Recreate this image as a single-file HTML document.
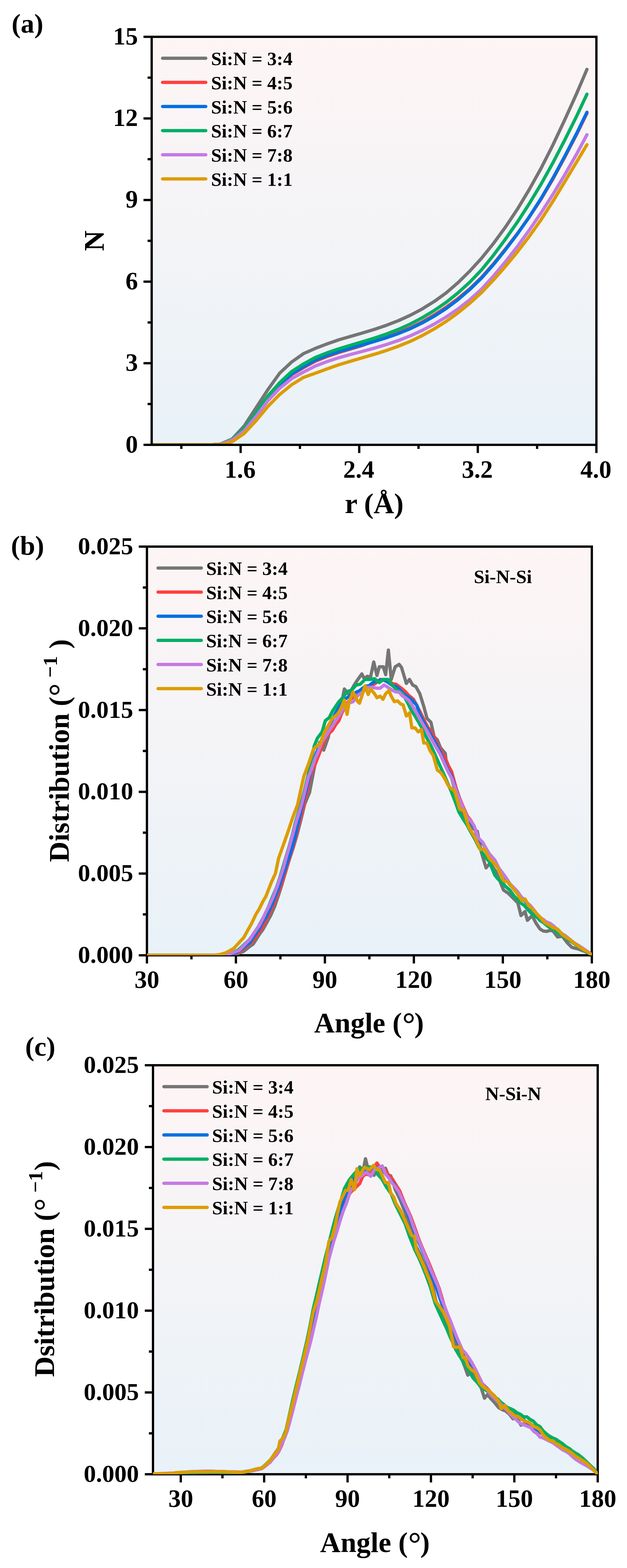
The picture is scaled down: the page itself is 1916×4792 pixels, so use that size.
<!DOCTYPE html><html><head><meta charset="utf-8"><title>Figure</title><style>html,body{margin:0;padding:0;background:#fff;overflow:hidden;}svg{display:block;}</style></head><body>
<svg width="1916" height="4792" viewBox="0 0 1916 4792">
<rect width="1916" height="4792" fill="#fff"/>
<defs><linearGradient id="ga" x1="0" y1="0" x2="0" y2="1"><stop offset="0" stop-color="#FEF5F5"/><stop offset="1" stop-color="#E8F2F8"/></linearGradient><clipPath id="ca"><rect x="463.5" y="112.5" width="1359.0" height="1247.0"/></clipPath></defs>
<rect x="463.5" y="112.5" width="1359.0" height="1247.0" fill="url(#ga)"/>
<g clip-path="url(#ca)" fill="none" stroke-width="10" stroke-linejoin="round" stroke-linecap="round">
<polyline stroke="#757575" points="463.5,1359.5 491.7,1359.5 528.0,1359.5 564.3,1359.5 600.6,1359.5 636.9,1359.5 673.2,1357.4 709.5,1341.7 745.8,1302.5 782.1,1246.8 818.4,1191.2 854.7,1140.4 891.0,1106.5 927.3,1080.8 963.6,1064.7 999.9,1050.8 1036.2,1038.3 1072.5,1027.7 1108.8,1017.3 1145.1,1006.2 1181.4,993.9 1217.7,979.9 1254.0,963.4 1290.3,944.1 1326.6,921.6 1362.9,895.5 1399.2,864.2 1435.5,828.5 1471.8,788.8 1508.1,743.8 1544.4,694.2 1580.7,639.8 1617.0,579.6 1653.3,514.5 1689.6,443.0 1725.9,365.9 1762.2,285.6 1793.6,212.0"/>
<polyline stroke="#FF4040" points="463.5,1359.5 491.7,1359.5 528.0,1359.5 564.3,1359.5 600.6,1359.5 636.9,1359.5 673.2,1357.9 709.5,1345.8 745.8,1315.2 782.1,1269.2 818.4,1220.4 854.7,1179.6 891.0,1145.3 927.3,1123.6 963.6,1103.9 999.9,1089.4 1036.2,1077.0 1072.5,1066.1 1108.8,1055.1 1145.1,1042.1 1181.4,1028.7 1217.7,1016.1 1254.0,1001.7 1290.3,983.7 1326.6,962.6 1362.9,939.2 1399.2,912.7 1435.5,882.6 1471.8,847.6 1508.1,806.3 1544.4,761.3 1580.7,714.3 1617.0,663.8 1653.3,608.8 1689.6,547.1 1725.9,480.0 1762.2,410.2 1793.6,346.0"/>
<polyline stroke="#0070E0" points="463.5,1359.5 491.7,1359.5 528.0,1359.5 564.3,1359.5 600.6,1359.5 636.9,1359.5 673.2,1357.9 709.5,1343.2 745.8,1312.7 782.1,1266.7 818.4,1217.9 854.7,1177.1 891.0,1142.8 927.3,1121.1 963.6,1100.7 999.9,1086.6 1036.2,1074.7 1072.5,1063.9 1108.8,1053.7 1145.1,1043.3 1181.4,1032.0 1217.7,1019.2 1254.0,1004.3 1290.3,986.8 1326.6,966.5 1362.9,943.3 1399.2,916.0 1435.5,884.8 1471.8,849.4 1508.1,808.4 1544.4,763.4 1580.7,715.5 1617.0,663.3 1653.3,606.8 1689.6,544.6 1725.9,477.6 1762.2,407.6 1793.6,343.1"/>
<polyline stroke="#00AF64" points="463.5,1359.5 491.7,1359.5 528.0,1359.5 564.3,1359.5 600.6,1359.5 636.9,1359.5 673.2,1357.9 709.5,1342.4 745.8,1309.9 782.1,1261.4 818.4,1210.6 854.7,1169.5 891.0,1135.6 927.3,1112.3 963.6,1092.5 999.9,1078.1 1036.2,1065.8 1072.5,1054.7 1108.8,1044.0 1145.1,1033.0 1181.4,1020.7 1217.7,1006.5 1254.0,990.2 1290.3,971.1 1326.6,949.2 1362.9,924.3 1399.2,895.4 1435.5,862.4 1471.8,824.4 1508.1,779.8 1544.4,730.9 1580.7,679.2 1617.0,623.0 1653.3,562.9 1689.6,497.5 1725.9,427.6 1762.2,354.7 1793.6,287.8"/>
<polyline stroke="#C47AE3" points="463.5,1359.5 491.7,1359.5 528.0,1359.5 564.3,1359.5 600.6,1359.5 636.9,1359.5 673.2,1358.4 709.5,1344.8 745.8,1317.2 782.1,1273.5 818.4,1225.1 854.7,1186.5 891.0,1157.4 927.3,1137.1 963.6,1118.6 999.9,1104.8 1036.2,1093.1 1072.5,1083.0 1108.8,1073.5 1145.1,1063.6 1181.4,1052.7 1217.7,1040.5 1254.0,1026.3 1290.3,1009.6 1326.6,990.5 1362.9,969.0 1399.2,944.5 1435.5,916.3 1471.8,883.2 1508.1,843.5 1544.4,800.0 1580.7,753.8 1617.0,703.7 1653.3,650.6 1689.6,594.0 1725.9,534.0 1762.2,470.6 1793.6,411.6"/>
<polyline stroke="#DD9C00" points="463.5,1359.5 491.7,1359.5 528.0,1359.5 564.3,1359.5 600.6,1359.5 636.9,1359.5 673.2,1359.0 709.5,1349.8 745.8,1325.2 782.1,1286.1 818.4,1242.5 854.7,1205.6 891.0,1176.1 927.3,1153.5 963.6,1140.6 999.9,1127.2 1036.2,1114.5 1072.5,1103.6 1108.8,1093.0 1145.1,1082.4 1181.4,1070.9 1217.7,1058.0 1254.0,1043.2 1290.3,1025.6 1326.6,1005.4 1362.9,982.6 1399.2,956.4 1435.5,926.9 1471.8,893.7 1508.1,855.6 1544.4,814.3 1580.7,770.3 1617.0,722.9 1653.3,671.8 1689.6,615.3 1725.9,555.1 1762.2,494.8 1793.6,442.2"/>
</g>
<path d="M554.1 1359.5v12.5 M735.3 1359.5v25 M916.5 1359.5v12.5 M1097.7 1359.5v25 M1278.9 1359.5v12.5 M1460.1 1359.5v25 M1641.3 1359.5v12.5 M1822.5 1359.5v25 M463.5 1359.5h-25 M463.5 1234.8h-12.5 M463.5 1110.1h-25 M463.5 985.4h-12.5 M463.5 860.7h-25 M463.5 736.0h-12.5 M463.5 611.3h-25 M463.5 486.6h-12.5 M463.5 361.9h-25 M463.5 237.2h-12.5 M463.5 112.5h-25" stroke="#000" stroke-width="7" fill="none"/>
<rect x="463.5" y="112.5" width="1359.0" height="1247.0" fill="none" stroke="#000" stroke-width="7"/>
<line x1="496.8" y1="178.0" x2="628.8" y2="178.0" stroke="#757575" stroke-width="10" stroke-linecap="round"/>
<text x="645" y="199.0" font-size="58" font-family="'Liberation Serif','Times New Roman',serif" font-weight="bold">Si:N = 3:4</text>
<line x1="496.8" y1="251.7" x2="628.8" y2="251.7" stroke="#FF4040" stroke-width="10" stroke-linecap="round"/>
<text x="645" y="272.7" font-size="58" font-family="'Liberation Serif','Times New Roman',serif" font-weight="bold">Si:N = 4:5</text>
<line x1="496.8" y1="325.5" x2="628.8" y2="325.5" stroke="#0070E0" stroke-width="10" stroke-linecap="round"/>
<text x="645" y="346.5" font-size="58" font-family="'Liberation Serif','Times New Roman',serif" font-weight="bold">Si:N = 5:6</text>
<line x1="496.8" y1="399.2" x2="628.8" y2="399.2" stroke="#00AF64" stroke-width="10" stroke-linecap="round"/>
<text x="645" y="420.2" font-size="58" font-family="'Liberation Serif','Times New Roman',serif" font-weight="bold">Si:N = 6:7</text>
<line x1="496.8" y1="473.0" x2="628.8" y2="473.0" stroke="#C47AE3" stroke-width="10" stroke-linecap="round"/>
<text x="645" y="494.0" font-size="58" font-family="'Liberation Serif','Times New Roman',serif" font-weight="bold">Si:N = 7:8</text>
<line x1="496.8" y1="546.7" x2="628.8" y2="546.7" stroke="#DD9C00" stroke-width="10" stroke-linecap="round"/>
<text x="645" y="567.7" font-size="58" font-family="'Liberation Serif','Times New Roman',serif" font-weight="bold">Si:N = 1:1</text>
<text x="421.5" y="1382.5" font-size="76" text-anchor="end" font-family="'Liberation Serif','Times New Roman',serif" font-weight="bold">0</text>
<text x="421.5" y="1133.1" font-size="76" text-anchor="end" font-family="'Liberation Serif','Times New Roman',serif" font-weight="bold">3</text>
<text x="421.5" y="883.7" font-size="76" text-anchor="end" font-family="'Liberation Serif','Times New Roman',serif" font-weight="bold">6</text>
<text x="421.5" y="634.3" font-size="76" text-anchor="end" font-family="'Liberation Serif','Times New Roman',serif" font-weight="bold">9</text>
<text x="421.5" y="384.9" font-size="76" text-anchor="end" font-family="'Liberation Serif','Times New Roman',serif" font-weight="bold">12</text>
<text x="421.5" y="135.5" font-size="76" text-anchor="end" font-family="'Liberation Serif','Times New Roman',serif" font-weight="bold">15</text>
<text x="733.8" y="1459.5" font-size="76" text-anchor="middle" font-family="'Liberation Serif','Times New Roman',serif" font-weight="bold">1.6</text>
<text x="1096.2" y="1459.5" font-size="76" text-anchor="middle" font-family="'Liberation Serif','Times New Roman',serif" font-weight="bold">2.4</text>
<text x="1458.6" y="1459.5" font-size="76" text-anchor="middle" font-family="'Liberation Serif','Times New Roman',serif" font-weight="bold">3.2</text>
<text x="1821.0" y="1459.5" font-size="76" text-anchor="middle" font-family="'Liberation Serif','Times New Roman',serif" font-weight="bold">4.0</text>
<text x="1143.5" y="1568" font-size="87" text-anchor="middle" font-family="'Liberation Serif','Times New Roman',serif" font-weight="bold">r (Å)</text>
<text transform="translate(316.8 735.9) rotate(-90)" x="0" y="0" font-size="87" text-anchor="middle" font-family="'Liberation Serif','Times New Roman',serif" font-weight="bold">N</text>
<text x="35.5" y="100" font-size="83" font-family="'Liberation Serif','Times New Roman',serif" font-weight="bold">(a)</text>
<defs><linearGradient id="gb" x1="0" y1="0" x2="0" y2="1"><stop offset="0" stop-color="#FEF5F5"/><stop offset="1" stop-color="#E8F2F8"/></linearGradient><clipPath id="cb"><rect x="449" y="1670.5" width="1359.5" height="1249.0"/></clipPath></defs>
<rect x="449" y="1670.5" width="1359.5" height="1249.0" fill="url(#gb)"/>
<path d="M449.0 2919.5v25 M585.0 2919.5v12.5 M720.9 2919.5v25 M856.8 2919.5v12.5 M992.8 2919.5v25 M1128.8 2919.5v12.5 M1264.7 2919.5v25 M1400.7 2919.5v12.5 M1536.6 2919.5v25 M1672.5 2919.5v12.5 M1808.5 2919.5v25 M449 2919.5h-25 M449 2794.6h-12.5 M449 2669.7h-25 M449 2544.8h-12.5 M449 2419.9h-25 M449 2295.0h-12.5 M449 2170.1h-25 M449 2045.2h-12.5 M449 1920.3h-25 M449 1795.4h-12.5 M449 1670.5h-25" stroke="#000" stroke-width="7" fill="none"/>
<rect x="449" y="1670.5" width="1359.5" height="1249.0" fill="none" stroke="#000" stroke-width="7"/>
<g clip-path="url(#cb)" fill="none" stroke-width="10" stroke-linejoin="round" stroke-linecap="round">
<polyline stroke="#757575" points="449.0,2919.5 458.3,2919.5 467.6,2919.5 476.9,2919.5 486.2,2919.5 495.5,2919.5 504.8,2919.5 514.1,2919.5 523.4,2919.5 532.7,2919.5 542.0,2919.5 551.3,2919.5 560.6,2919.5 569.9,2919.5 579.1,2919.5 588.4,2919.5 597.7,2919.5 607.0,2919.5 616.3,2919.5 625.6,2919.5 634.9,2919.5 644.2,2919.5 653.5,2919.5 662.8,2919.5 672.1,2919.5 681.4,2919.5 690.7,2919.5 700.0,2919.5 710.0,2918.3 720.0,2917.0 732.2,2912.2 744.5,2907.3 754.2,2899.7 763.9,2891.8 773.6,2885.4 783.3,2870.3 793.0,2854.7 802.7,2841.7 814.9,2820.0 827.0,2798.1 839.1,2770.5 851.3,2735.0 861.0,2704.8 870.7,2671.8 882.9,2630.5 895.0,2594.2 907.1,2553.6 919.2,2506.8 931.0,2457.6 945.8,2422.3 960.1,2348.3 977.1,2268.3 989.2,2292.5 1003.8,2251.3 1008.9,2218.4 1023.5,2218.4 1040.2,2168.7 1052.3,2105.6 1064.5,2120.2 1074.2,2108.0 1083.9,2091.1 1093.6,2076.5 1105.7,2059.5 1113.0,2074.1 1122.7,2066.8 1132.4,2069.2 1142.1,2023.1 1151.8,2064.4 1159.1,2037.7 1171.3,2037.7 1178.5,2061.9 1186.8,1986.7 1195.5,2076.5 1207.7,2037.7 1219.8,2030.4 1227.1,2040.1 1241.7,2088.6 1251.4,2076.5 1261.1,2093.5 1270.8,2098.3 1282.9,2120.2 1295.0,2159.0 1304.8,2195.4 1316.9,2207.6 1326.6,2251.3 1336.3,2261.0 1346.0,2285.2 1360.6,2302.2 1365.4,2343.5 1380.0,2377.5 1391.4,2419.8 1402.8,2458.3 1414.9,2488.3 1427.1,2511.7 1437.6,2523.5 1448.1,2533.4 1458.6,2540.8 1470.8,2603.9 1485.3,2652.4 1497.5,2637.9 1514.5,2662.1 1526.6,2690.1 1538.7,2720.4 1553.3,2730.1 1567.9,2744.7 1582.4,2759.2 1592.1,2798.1 1604.3,2785.9 1611.6,2812.6 1626.1,2798.1 1638.2,2821.9 1650.4,2839.3 1660.1,2845.3 1669.8,2846.6 1679.5,2843.7 1689.2,2844.2 1703.8,2863.6 1718.3,2861.2 1732.9,2880.6 1747.5,2895.1 1757.2,2897.9 1766.9,2900.0 1776.6,2903.9 1786.3,2907.3 1803.3,2914.6 1808.5,2919.5"/>
<polyline stroke="#FF4040" points="449.0,2919.5 458.1,2919.5 467.2,2919.5 476.3,2919.5 485.4,2919.5 494.6,2919.5 503.7,2919.5 512.8,2919.5 521.9,2919.5 531.0,2919.5 540.1,2919.5 549.2,2919.5 558.3,2919.5 567.4,2919.5 576.6,2919.5 585.7,2919.5 594.8,2919.5 603.9,2919.5 613.0,2919.5 622.1,2919.5 631.2,2919.5 640.3,2919.5 649.4,2919.5 658.6,2919.5 667.7,2919.5 676.8,2919.5 685.9,2919.5 695.0,2919.5 710.0,2916.0 720.0,2912.7 729.9,2909.7 739.6,2902.7 749.3,2894.8 759.0,2887.4 768.7,2880.6 780.0,2865.7 791.4,2849.5 802.7,2832.0 812.4,2811.5 822.1,2796.0 831.8,2773.8 841.5,2749.8 851.3,2726.3 861.0,2701.0 873.1,2660.4 885.2,2623.3 897.4,2582.2 909.5,2535.9 919.0,2499.1 928.5,2460.0 939.5,2414.2 950.4,2362.9 963.8,2333.7 977.1,2299.8 986.8,2274.3 996.5,2251.3 1006.2,2240.7 1015.9,2231.8 1025.6,2215.2 1035.3,2202.7 1045.0,2178.4 1054.8,2159.3 1064.5,2144.5 1074.2,2133.8 1083.9,2127.1 1093.6,2120.2 1103.3,2114.4 1113.0,2104.3 1122.7,2100.8 1134.8,2095.8 1147.0,2088.6 1161.6,2076.5 1171.3,2078.0 1181.0,2081.4 1190.7,2083.5 1200.4,2089.8 1210.1,2091.1 1219.8,2098.2 1229.5,2105.6 1239.2,2114.2 1248.9,2125.0 1263.5,2137.2 1275.7,2160.1 1287.8,2183.3 1297.5,2203.9 1307.2,2222.1 1319.3,2238.9 1331.5,2261.0 1341.2,2283.3 1350.9,2299.8 1360.6,2316.4 1370.3,2340.2 1380.0,2358.1 1394.0,2409.0 1403.5,2436.6 1413.0,2460.0 1428.0,2494.0 1438.5,2507.0 1448.9,2525.8 1461.1,2562.2 1475.6,2576.8 1485.3,2595.5 1495.0,2610.7 1512.0,2630.2 1524.2,2654.4 1538.7,2673.8 1548.5,2687.6 1558.2,2703.0 1572.7,2717.5 1582.4,2730.1 1592.1,2741.8 1601.8,2748.6 1611.6,2761.2 1621.3,2769.8 1631.0,2782.0 1640.7,2795.2 1650.4,2805.9 1660.1,2809.8 1669.8,2819.5 1681.9,2827.9 1694.1,2834.0 1706.2,2846.6 1718.3,2855.9 1728.0,2864.4 1737.8,2870.1 1747.5,2877.7 1757.2,2883.9 1766.9,2890.7 1776.6,2897.1 1788.8,2905.8 1800.9,2914.1 1808.5,2919.5"/>
<polyline stroke="#0070E0" points="449.0,2919.5 458.3,2919.5 467.5,2919.5 476.8,2919.5 486.1,2919.5 495.3,2919.5 504.6,2919.5 513.9,2919.5 523.2,2919.5 532.4,2919.5 541.7,2919.5 551.0,2919.5 560.2,2919.5 569.5,2919.5 578.8,2919.5 588.0,2919.5 597.3,2919.5 606.6,2919.5 615.8,2919.5 625.1,2919.5 634.4,2919.5 643.7,2919.5 652.9,2919.5 662.2,2919.5 671.5,2919.5 680.7,2919.5 690.0,2919.5 705.0,2916.0 715.0,2912.7 725.0,2909.7 734.7,2902.5 744.5,2895.4 754.2,2887.9 763.9,2880.6 773.6,2865.2 783.3,2851.4 793.0,2836.9 802.7,2817.0 812.4,2803.9 822.1,2783.5 831.8,2763.0 841.6,2738.5 851.3,2715.5 863.4,2677.9 875.5,2642.7 887.6,2606.3 899.8,2565.0 911.8,2512.9 923.7,2460.0 935.9,2413.7 948.0,2362.9 957.7,2333.4 967.4,2299.8 979.5,2273.2 991.7,2246.4 1003.0,2223.2 1014.3,2201.7 1025.6,2178.4 1035.3,2162.2 1045.0,2146.9 1054.8,2136.4 1064.5,2129.9 1076.6,2121.4 1088.7,2115.3 1098.5,2111.1 1108.2,2103.2 1117.9,2096.8 1127.6,2095.9 1142.1,2083.8 1156.7,2081.4 1168.8,2076.5 1183.4,2083.8 1200.4,2095.9 1210.1,2098.0 1219.8,2105.6 1229.5,2116.1 1239.2,2125.0 1248.9,2131.0 1258.6,2139.6 1273.2,2154.2 1282.9,2183.3 1297.5,2212.4 1307.2,2229.6 1316.9,2246.4 1326.6,2263.2 1336.3,2280.4 1346.0,2301.3 1355.7,2324.1 1367.8,2351.3 1380.0,2372.6 1393.0,2412.0 1402.5,2437.2 1412.0,2466.0 1427.0,2499.0 1438.0,2512.4 1448.9,2526.8 1461.1,2563.2 1475.6,2577.8 1485.3,2593.0 1495.0,2611.7 1512.0,2631.2 1524.2,2655.4 1538.7,2674.8 1548.5,2690.2 1558.2,2704.0 1572.7,2718.5 1582.4,2729.3 1592.1,2742.8 1601.8,2751.6 1611.6,2762.2 1621.3,2775.0 1631.0,2783.8 1640.7,2796.2 1650.4,2804.6 1660.1,2814.6 1669.8,2820.5 1681.9,2825.9 1694.1,2835.0 1706.2,2844.3 1718.3,2856.9 1728.0,2863.4 1737.8,2872.1 1747.5,2878.7 1757.2,2885.4 1766.9,2891.3 1776.6,2898.1 1788.8,2906.5 1800.9,2915.1 1808.5,2919.5"/>
<polyline stroke="#00AF64" points="449.0,2919.5 458.2,2919.5 467.5,2919.5 476.7,2919.5 486.0,2919.5 495.2,2919.5 504.4,2919.5 513.7,2919.5 522.9,2919.5 532.2,2919.5 541.4,2919.5 550.6,2919.5 559.9,2919.5 569.1,2919.5 578.4,2919.5 587.6,2919.5 596.8,2919.5 606.1,2919.5 615.3,2919.5 624.6,2919.5 633.8,2919.5 643.0,2919.5 652.3,2919.5 661.5,2919.5 670.8,2919.5 680.0,2919.5 690.0,2917.7 700.0,2916.0 713.5,2909.8 727.0,2904.0 738.7,2893.8 750.3,2882.6 762.0,2872.0 771.7,2858.3 781.3,2844.8 791.0,2829.0 800.7,2811.2 810.3,2793.5 820.0,2772.0 832.5,2741.4 845.0,2712.0 854.5,2683.8 864.0,2652.0 874.0,2618.2 884.0,2585.0 893.5,2551.1 903.0,2512.0 918.8,2460.0 931.0,2413.7 943.1,2362.9 960.1,2280.4 969.8,2256.1 984.4,2236.7 994.1,2202.7 1006.2,2193.0 1015.9,2173.6 1025.6,2159.0 1035.3,2144.7 1045.0,2134.8 1062.0,2112.9 1074.2,2109.5 1088.7,2093.5 1100.9,2091.1 1115.4,2076.5 1130.0,2076.5 1144.6,2074.1 1159.1,2086.2 1171.3,2076.5 1185.8,2076.5 1198.0,2093.5 1215.0,2110.5 1229.5,2120.2 1239.2,2135.5 1248.9,2154.2 1258.6,2174.0 1268.3,2188.2 1278.0,2204.8 1287.8,2222.1 1297.5,2242.3 1307.2,2261.0 1316.9,2279.2 1326.6,2299.8 1336.3,2321.7 1346.0,2343.5 1355.7,2364.7 1365.4,2387.2 1380.0,2421.2 1391.4,2451.0 1402.8,2482.5 1414.9,2502.5 1427.1,2521.4 1439.2,2543.7 1451.4,2565.0 1463.5,2589.3 1475.6,2608.7 1485.3,2621.9 1495.0,2633.0 1512.0,2674.3 1523.0,2687.8 1533.9,2696.1 1546.1,2710.4 1558.2,2720.4 1570.3,2737.9 1582.4,2749.5 1592.1,2760.2 1601.9,2766.9 1611.6,2778.6 1621.3,2788.9 1631.0,2797.6 1640.7,2802.9 1650.4,2813.2 1660.1,2819.4 1669.8,2827.2 1679.5,2834.6 1689.2,2839.0 1698.9,2846.6 1708.6,2854.2 1718.4,2859.8 1728.1,2866.0 1737.8,2872.0 1747.5,2878.0 1757.2,2885.4 1766.9,2892.4 1776.6,2898.9 1786.3,2904.9 1796.0,2909.5 1805.7,2914.6 1808.5,2919.5"/>
<polyline stroke="#C47AE3" points="449.0,2919.5 458.2,2919.5 467.5,2919.5 476.7,2919.5 486.0,2919.5 495.2,2919.5 504.4,2919.5 513.7,2919.5 522.9,2919.5 532.2,2919.5 541.4,2919.5 550.6,2919.5 559.9,2919.5 569.1,2919.5 578.4,2919.5 587.6,2919.5 596.8,2919.5 606.1,2919.5 615.3,2919.5 624.6,2919.5 633.8,2919.5 643.0,2919.5 652.3,2919.5 661.5,2919.5 670.8,2919.5 680.0,2919.5 696.0,2917.0 707.3,2912.8 718.6,2909.1 729.9,2904.9 741.2,2894.0 752.6,2882.1 763.9,2870.9 773.6,2855.1 783.3,2840.6 793.0,2827.2 802.7,2808.5 812.4,2787.1 822.1,2768.9 834.2,2742.5 846.4,2710.7 856.1,2682.1 865.8,2652.4 875.5,2616.7 885.2,2584.5 895.0,2549.0 904.7,2511.7 921.3,2460.0 932.2,2415.5 943.1,2372.6 952.8,2348.5 962.5,2319.2 972.2,2297.4 981.9,2270.7 994.0,2251.3 1006.2,2231.8 1015.9,2218.1 1025.6,2202.7 1036.5,2186.9 1047.5,2168.7 1064.5,2149.3 1079.0,2144.5 1093.6,2125.0 1108.2,2115.3 1122.7,2100.8 1137.3,2100.8 1151.8,2103.2 1161.6,2103.2 1173.7,2093.5 1185.8,2100.8 1200.4,2110.5 1210.1,2114.7 1219.8,2115.3 1229.5,2126.7 1239.2,2132.3 1248.9,2140.4 1258.6,2154.2 1268.3,2170.4 1278.1,2188.2 1287.8,2205.8 1297.5,2222.1 1307.2,2237.9 1316.9,2256.1 1326.6,2273.6 1336.3,2290.1 1346.0,2307.0 1355.7,2328.9 1367.8,2355.5 1380.0,2377.5 1393.1,2414.6 1402.8,2439.0 1412.5,2463.1 1427.1,2497.1 1438.0,2508.2 1448.9,2523.8 1461.1,2560.2 1475.6,2574.8 1485.3,2592.7 1495.0,2608.7 1512.0,2628.2 1524.2,2652.4 1538.7,2671.8 1548.5,2685.3 1558.2,2701.0 1572.7,2715.5 1582.4,2725.8 1592.1,2739.8 1601.8,2749.4 1611.6,2759.2 1621.3,2768.4 1631.0,2780.1 1640.7,2793.2 1650.4,2803.5 1660.1,2810.5 1669.8,2817.5 1681.9,2822.4 1694.1,2832.0 1706.2,2844.0 1718.3,2853.9 1728.0,2859.8 1737.8,2868.0 1747.5,2875.7 1757.2,2882.9 1766.9,2888.8 1776.6,2895.1 1788.8,2903.4 1800.9,2912.1 1808.5,2919.5"/>
<polyline stroke="#DD9C00" points="449.0,2919.5 458.1,2919.5 467.3,2919.5 476.4,2919.5 485.5,2919.5 494.7,2919.5 503.8,2919.5 513.0,2919.5 522.1,2919.5 531.2,2919.5 540.4,2919.5 549.5,2919.5 558.6,2919.5 567.8,2919.5 576.9,2919.5 586.0,2919.5 595.2,2919.5 604.3,2919.5 613.5,2919.5 622.6,2919.5 631.7,2919.5 640.9,2919.5 650.0,2919.5 668.0,2918.0 679.0,2915.0 690.0,2912.0 702.6,2905.1 715.3,2897.6 725.0,2886.9 734.8,2875.9 744.5,2866.0 756.6,2843.9 768.7,2822.3 780.9,2796.4 793.0,2776.2 802.7,2756.3 812.4,2739.8 829.4,2696.1 841.6,2669.4 851.3,2623.3 863.4,2589.3 880.4,2540.8 895.0,2497.1 909.1,2460.0 918.8,2415.9 928.5,2372.6 943.1,2333.8 957.7,2290.1 965.0,2282.8 977.1,2275.5 991.7,2236.7 1006.2,2212.4 1015.9,2195.4 1030.5,2183.3 1040.2,2168.7 1052.3,2139.6 1060.6,2183.3 1066.9,2144.5 1079.0,2115.3 1093.6,2144.5 1098.4,2149.3 1105.7,2127.5 1115.4,2095.9 1125.1,2122.6 1132.4,2105.6 1144.6,2120.2 1151.8,2132.3 1161.6,2127.5 1170.3,2137.2 1178.5,2120.2 1188.3,2110.5 1195.5,2127.5 1205.2,2144.5 1215.0,2142.0 1224.7,2151.7 1231.9,2154.2 1241.7,2188.2 1251.4,2178.4 1258.6,2224.6 1268.3,2224.6 1278.1,2236.7 1287.8,2229.4 1295.0,2270.7 1304.8,2270.7 1314.5,2294.9 1324.2,2309.5 1336.3,2353.2 1348.4,2362.9 1360.6,2382.3 1370.3,2401.7 1380.0,2411.5 1388.3,2414.6 1405.2,2472.8 1417.4,2477.7 1431.9,2526.2 1441.7,2543.2 1451.4,2560.2 1468.3,2596.6 1480.5,2594.2 1495.0,2623.3 1508.3,2636.2 1521.7,2652.4 1538.7,2691.3 1553.3,2696.1 1570.3,2718.0 1582.4,2733.4 1594.6,2752.0 1604.3,2747.1 1616.4,2768.9 1627.7,2778.5 1639.1,2791.3 1650.4,2802.9 1665.0,2819.9 1677.1,2826.2 1689.2,2834.5 1703.8,2839.3 1718.3,2856.3 1732.9,2866.0 1742.6,2872.2 1752.3,2880.6 1764.4,2889.6 1776.6,2897.6 1789.9,2906.1 1803.3,2914.6 1808.5,2919.5"/>
</g>
<line x1="483" y1="1735.9" x2="615.2" y2="1735.9" stroke="#757575" stroke-width="10" stroke-linecap="round"/>
<text x="630" y="1756.9" font-size="58" font-family="'Liberation Serif','Times New Roman',serif" font-weight="bold">Si:N = 3:4</text>
<line x1="483" y1="1809.6" x2="615.2" y2="1809.6" stroke="#FF4040" stroke-width="10" stroke-linecap="round"/>
<text x="630" y="1830.6" font-size="58" font-family="'Liberation Serif','Times New Roman',serif" font-weight="bold">Si:N = 4:5</text>
<line x1="483" y1="1883.3" x2="615.2" y2="1883.3" stroke="#0070E0" stroke-width="10" stroke-linecap="round"/>
<text x="630" y="1904.3" font-size="58" font-family="'Liberation Serif','Times New Roman',serif" font-weight="bold">Si:N = 5:6</text>
<line x1="483" y1="1957.1" x2="615.2" y2="1957.1" stroke="#00AF64" stroke-width="10" stroke-linecap="round"/>
<text x="630" y="1978.1" font-size="58" font-family="'Liberation Serif','Times New Roman',serif" font-weight="bold">Si:N = 6:7</text>
<line x1="483" y1="2030.8" x2="615.2" y2="2030.8" stroke="#C47AE3" stroke-width="10" stroke-linecap="round"/>
<text x="630" y="2051.8" font-size="58" font-family="'Liberation Serif','Times New Roman',serif" font-weight="bold">Si:N = 7:8</text>
<line x1="483" y1="2104.5" x2="615.2" y2="2104.5" stroke="#DD9C00" stroke-width="10" stroke-linecap="round"/>
<text x="630" y="2125.5" font-size="58" font-family="'Liberation Serif','Times New Roman',serif" font-weight="bold">Si:N = 1:1</text>
<text x="407" y="2943.0" font-size="75" text-anchor="end" font-family="'Liberation Serif','Times New Roman',serif" font-weight="bold">0.000</text>
<text x="407" y="2693.2" font-size="75" text-anchor="end" font-family="'Liberation Serif','Times New Roman',serif" font-weight="bold">0.005</text>
<text x="407" y="2443.4" font-size="75" text-anchor="end" font-family="'Liberation Serif','Times New Roman',serif" font-weight="bold">0.010</text>
<text x="407" y="2193.6" font-size="75" text-anchor="end" font-family="'Liberation Serif','Times New Roman',serif" font-weight="bold">0.015</text>
<text x="407" y="1943.8" font-size="75" text-anchor="end" font-family="'Liberation Serif','Times New Roman',serif" font-weight="bold">0.020</text>
<text x="407" y="1694.0" font-size="75" text-anchor="end" font-family="'Liberation Serif','Times New Roman',serif" font-weight="bold">0.025</text>
<text x="449.0" y="3019" font-size="76" text-anchor="middle" font-family="'Liberation Serif','Times New Roman',serif" font-weight="bold">30</text>
<text x="720.9" y="3019" font-size="76" text-anchor="middle" font-family="'Liberation Serif','Times New Roman',serif" font-weight="bold">60</text>
<text x="992.8" y="3019" font-size="76" text-anchor="middle" font-family="'Liberation Serif','Times New Roman',serif" font-weight="bold">90</text>
<text x="1264.7" y="3019" font-size="76" text-anchor="middle" font-family="'Liberation Serif','Times New Roman',serif" font-weight="bold">120</text>
<text x="1536.6" y="3019" font-size="76" text-anchor="middle" font-family="'Liberation Serif','Times New Roman',serif" font-weight="bold">150</text>
<text x="1808.5" y="3019" font-size="76" text-anchor="middle" font-family="'Liberation Serif','Times New Roman',serif" font-weight="bold">180</text>
<text x="1127.6" y="3155" font-size="87" text-anchor="middle" font-family="'Liberation Serif','Times New Roman',serif" font-weight="bold">Angle (<tspan font-size="100" dy="8" dx="1">°</tspan><tspan dy="-8" dx="-3">)</tspan></text>
<text x="1448" y="1782.4" font-size="58" font-family="'Liberation Serif','Times New Roman',serif" font-weight="bold">Si-N-Si</text>
<text transform="translate(210 2634.4) rotate(-90)" font-size="87" font-family="'Liberation Serif','Times New Roman',serif" font-weight="bold">Distribution (<tspan font-size="100" dy="8" dx="1">°</tspan></text>
<text transform="translate(174 2071) rotate(-90)" font-size="62" font-family="'Liberation Serif','Times New Roman',serif" font-weight="bold">−1</text>
<text transform="translate(210 1982.5) rotate(-90)" font-size="87" font-family="'Liberation Serif','Times New Roman',serif" font-weight="bold">)</text>
<text x="33.5" y="1695" font-size="83" font-family="'Liberation Serif','Times New Roman',serif" font-weight="bold">(b)</text>
<defs><linearGradient id="gc" x1="0" y1="0" x2="0" y2="1"><stop offset="0" stop-color="#FEF5F5"/><stop offset="1" stop-color="#E8F2F8"/></linearGradient><clipPath id="cc"><rect x="467.5" y="3255.5" width="1359.0" height="1250.0"/></clipPath></defs>
<rect x="467.5" y="3255.5" width="1359.0" height="1250.0" fill="url(#gc)"/>
<path d="M552.4 4505.5v25 M679.8 4505.5v12.5 M807.2 4505.5v25 M934.7 4505.5v12.5 M1062.1 4505.5v25 M1189.5 4505.5v12.5 M1316.9 4505.5v25 M1444.3 4505.5v12.5 M1571.7 4505.5v25 M1699.1 4505.5v12.5 M1826.5 4505.5v25 M467.5 4505.5h-25 M467.5 4380.5h-12.5 M467.5 4255.5h-25 M467.5 4130.5h-12.5 M467.5 4005.5h-25 M467.5 3880.5h-12.5 M467.5 3755.5h-25 M467.5 3630.5h-12.5 M467.5 3505.5h-25 M467.5 3380.5h-12.5 M467.5 3255.5h-25" stroke="#000" stroke-width="7" fill="none"/>
<rect x="467.5" y="3255.5" width="1359.0" height="1250.0" fill="none" stroke="#000" stroke-width="7"/>
<g clip-path="url(#cc)" fill="none" stroke-width="10" stroke-linejoin="round" stroke-linecap="round">
<polyline stroke="#757575" points="467.5,4504.5 476.4,4504.3 485.4,4504.1 494.3,4503.9 503.2,4503.6 512.1,4503.4 521.1,4503.2 530.0,4503.0 538.6,4502.4 547.1,4501.9 555.7,4501.3 564.3,4500.7 572.9,4500.2 581.4,4499.6 590.0,4499.0 600.0,4498.7 610.0,4498.6 620.0,4498.3 630.0,4498.3 640.0,4498.0 648.6,4498.1 657.1,4498.7 665.7,4498.7 674.3,4499.2 682.9,4499.4 691.4,4499.7 700.0,4500.0 710.0,4500.1 720.0,4499.9 730.0,4499.9 740.0,4500.0 750.0,4498.5 760.0,4496.7 770.0,4495.0 780.0,4492.4 790.0,4490.7 800.0,4488.0 808.7,4481.2 817.3,4472.7 826.0,4466.0 834.7,4453.8 843.3,4440.8 852.0,4430.0 863.5,4399.0 875.0,4370.0 885.3,4330.7 895.7,4288.0 906.0,4250.0 916.7,4204.5 927.3,4154.0 938.0,4110.0 947.5,4058.0 957.0,4010.0 966.5,3971.9 976.0,3930.0 986.0,3888.4 996.0,3848.0 1005.5,3809.5 1015.0,3772.0 1024.5,3737.6 1034.0,3702.0 1043.0,3673.4 1052.0,3645.0 1064.0,3628.0 1073.0,3618.0 1082.0,3600.0 1090.0,3590.0 1099.4,3565.9 1108.0,3585.0 1116.9,3541.2 1125.0,3575.0 1134.0,3582.0 1143.0,3592.0 1152.0,3577.0 1160.0,3587.0 1170.0,3578.0 1178.0,3570.3 1186.0,3590.0 1194.1,3593.6 1201.0,3612.0 1207.2,3634.4 1222.0,3665.0 1238.0,3705.0 1247.5,3732.8 1257.0,3762.0 1272.0,3810.0 1284.0,3833.2 1296.0,3862.0 1308.0,3892.4 1320.0,3920.0 1332.0,3975.0 1343.5,4000.3 1355.0,4020.0 1365.0,4045.4 1375.0,4065.0 1385.0,4088.5 1395.0,4110.0 1403.5,4131.6 1412.0,4155.0 1420.8,4178.0 1429.5,4202.7 1440.0,4190.0 1455.0,4215.0 1470.0,4240.0 1480.5,4273.1 1490.0,4262.0 1500.0,4274.6 1510.0,4285.0 1524.2,4302.2 1534.6,4308.1 1545.0,4312.0 1556.5,4321.8 1567.9,4336.2 1575.0,4328.0 1583.5,4340.2 1592.1,4355.6 1605.0,4348.0 1615.0,4352.2 1625.0,4358.0 1637.5,4365.1 1650.0,4372.0 1660.0,4380.5 1670.0,4385.3 1680.0,4392.0 1690.0,4395.5 1700.0,4405.6 1710.0,4410.0 1720.0,4416.4 1730.0,4423.4 1740.0,4430.0 1750.0,4435.7 1760.0,4443.1 1770.0,4450.0 1780.0,4458.1 1790.0,4467.2 1800.0,4475.0 1808.8,4484.8 1817.7,4495.4 1826.5,4505.5"/>
<polyline stroke="#FF4040" points="467.5,4504.5 476.4,4504.2 485.4,4503.7 494.3,4503.5 503.2,4503.0 512.1,4502.8 521.1,4502.3 530.0,4502.0 538.6,4501.5 547.1,4500.9 555.7,4500.4 564.3,4499.9 572.9,4499.1 581.4,4498.5 590.0,4498.0 599.4,4497.7 608.8,4497.1 618.1,4496.7 627.5,4496.3 636.9,4496.0 645.9,4496.5 654.9,4496.7 663.9,4497.0 673.0,4497.0 682.0,4497.6 691.0,4497.7 700.0,4498.0 710.0,4498.2 720.0,4498.5 730.0,4498.7 740.0,4499.0 750.0,4497.3 760.0,4496.0 770.0,4494.5 780.0,4492.2 790.0,4490.2 800.0,4488.0 808.7,4481.9 817.3,4474.9 826.0,4468.0 834.7,4457.1 843.3,4447.7 852.0,4436.0 860.7,4416.9 869.3,4393.3 878.0,4372.0 886.5,4340.4 895.0,4300.6 903.5,4267.1 912.0,4235.0 920.5,4199.3 929.0,4170.1 937.5,4134.9 946.0,4100.0 955.0,4058.8 964.0,4015.0 973.5,3971.2 983.0,3930.0 993.0,3887.5 1003.0,3845.0 1011.5,3814.8 1020.0,3780.0 1029.5,3745.6 1039.0,3716.0 1048.5,3689.7 1058.0,3668.0 1066.5,3651.3 1075.0,3640.0 1088.0,3628.0 1099.4,3616.9 1108.0,3596.0 1116.9,3587.8 1125.0,3590.0 1134.4,3576.1 1143.0,3568.0 1151.9,3554.3 1160.6,3567.4 1170.0,3572.0 1178.0,3576.1 1183.9,3587.8 1198.5,3602.3 1208.9,3619.4 1221.8,3640.0 1236.0,3676.0 1245.3,3696.1 1254.6,3716.5 1266.0,3748.0 1278.9,3784.5 1290.0,3812.0 1303.2,3842.7 1315.0,3870.0 1327.4,3901.0 1342.0,3937.0 1356.0,3985.0 1366.0,4014.5 1376.0,4040.0 1385.5,4065.3 1395.0,4090.0 1403.5,4109.4 1412.0,4130.0 1421.0,4145.0 1430.0,4160.0 1440.0,4173.1 1450.0,4190.0 1460.0,4210.2 1470.0,4225.0 1480.0,4234.5 1490.0,4244.1 1500.0,4256.0 1510.0,4264.9 1520.0,4277.9 1530.0,4286.0 1540.0,4293.6 1550.0,4305.8 1560.0,4312.0 1570.0,4319.0 1580.0,4327.6 1590.0,4336.0 1600.0,4340.1 1610.0,4351.8 1620.0,4356.0 1630.0,4365.1 1640.0,4370.5 1650.0,4378.0 1660.0,4382.4 1670.0,4391.3 1680.0,4398.0 1690.0,4403.0 1700.0,4411.0 1710.0,4415.0 1720.0,4423.5 1730.0,4429.3 1740.0,4435.0 1750.0,4441.0 1760.0,4447.0 1770.0,4455.0 1780.0,4463.5 1790.0,4471.1 1800.0,4478.0 1808.8,4486.9 1817.7,4496.3 1826.5,4505.5"/>
<polyline stroke="#0070E0" points="467.5,4505.0 476.4,4504.7 485.4,4504.4 494.3,4504.2 503.2,4503.9 512.1,4503.5 521.1,4503.3 530.0,4503.0 538.6,4502.3 547.1,4501.6 555.7,4500.8 564.3,4500.2 572.9,4499.4 581.4,4498.8 590.0,4498.0 600.0,4497.6 610.0,4497.3 620.0,4497.3 630.0,4496.7 640.0,4496.5 648.6,4496.8 657.1,4497.3 665.7,4497.6 674.3,4497.8 682.9,4498.3 691.4,4498.7 700.0,4499.0 710.0,4498.9 720.0,4499.0 730.0,4498.9 740.0,4499.0 750.0,4497.3 760.0,4495.5 770.0,4494.0 780.0,4491.5 790.0,4489.7 800.0,4487.0 808.7,4479.9 817.3,4473.8 826.0,4466.0 834.7,4454.5 843.3,4443.7 852.0,4432.0 864.0,4402.9 876.0,4370.0 884.5,4337.4 893.0,4300.2 901.5,4269.3 910.0,4235.0 921.0,4190.8 932.0,4143.1 943.0,4100.0 952.0,4055.1 961.0,4015.0 970.5,3974.7 980.0,3930.0 990.0,3887.6 1000.0,3845.0 1008.5,3809.7 1017.0,3778.0 1026.5,3744.7 1036.0,3712.0 1045.5,3681.8 1055.0,3655.0 1063.5,3643.3 1072.0,3628.0 1086.0,3598.0 1100.0,3585.0 1114.0,3575.0 1128.0,3575.0 1142.0,3568.0 1156.0,3568.0 1168.0,3575.0 1180.0,3590.0 1194.0,3607.0 1208.0,3625.0 1222.0,3652.0 1238.0,3690.0 1254.0,3728.0 1270.0,3775.0 1280.0,3797.5 1290.0,3820.0 1301.0,3845.6 1312.0,3876.0 1322.0,3904.9 1332.0,3930.0 1345.0,3970.0 1360.0,4010.0 1369.0,4027.5 1378.0,4050.0 1387.0,4071.2 1396.0,4095.0 1405.0,4112.2 1414.0,4135.0 1423.0,4153.9 1432.0,4170.0 1442.0,4180.2 1452.0,4195.0 1461.0,4211.7 1470.0,4228.0 1480.0,4235.6 1490.0,4247.9 1500.0,4258.0 1510.0,4269.1 1520.0,4278.2 1530.0,4288.0 1540.0,4295.7 1550.0,4303.9 1560.0,4312.0 1570.0,4319.6 1580.0,4328.6 1590.0,4336.0 1600.0,4338.9 1610.0,4346.5 1620.0,4352.0 1630.0,4358.1 1640.0,4369.5 1650.0,4375.0 1660.0,4384.3 1670.0,4385.8 1680.0,4395.0 1690.0,4399.1 1700.0,4408.0 1710.0,4413.0 1720.0,4419.6 1730.0,4423.7 1740.0,4432.0 1750.0,4439.4 1760.0,4446.7 1770.0,4452.0 1780.0,4459.5 1790.0,4467.0 1800.0,4475.0 1808.8,4485.2 1817.7,4495.6 1826.5,4505.5"/>
<polyline stroke="#00AF64" points="467.5,4505.0 476.4,4504.8 485.4,4504.6 494.3,4504.4 503.2,4504.2 512.1,4503.9 521.1,4503.7 530.0,4503.5 538.6,4503.1 547.1,4502.7 555.7,4502.5 564.3,4502.0 572.9,4501.7 581.4,4501.3 590.0,4501.0 600.0,4500.8 610.0,4500.6 620.0,4500.5 630.0,4500.2 640.0,4500.0 648.6,4499.9 657.1,4500.1 665.7,4500.1 674.3,4500.4 682.9,4500.4 691.4,4500.5 700.0,4500.5 710.0,4500.5 720.0,4500.3 730.0,4500.2 740.0,4500.0 750.0,4498.1 760.0,4495.9 770.0,4494.0 780.0,4491.6 790.0,4488.7 800.0,4486.0 808.7,4478.4 817.3,4470.1 826.0,4462.0 834.7,4449.5 843.3,4436.9 852.0,4425.0 863.0,4397.1 874.0,4370.0 884.3,4323.9 894.7,4277.7 905.0,4235.0 915.7,4191.9 926.4,4146.8 937.1,4100.0 946.8,4054.4 956.5,4002.9 966.2,3962.8 975.9,3920.4 985.6,3879.5 995.3,3837.9 1005.0,3800.5 1014.8,3760.2 1024.5,3724.0 1034.2,3692.2 1043.5,3662.9 1052.8,3631.5 1068.0,3605.0 1082.0,3587.8 1096.0,3573.0 1108.0,3570.0 1116.8,3567.6 1125.6,3565.9 1140.0,3567.0 1154.8,3590.0 1166.4,3602.3 1181.0,3628.0 1195.5,3648.9 1207.0,3678.0 1222.0,3708.0 1238.0,3740.0 1252.0,3780.0 1267.2,3818.4 1279.1,3842.3 1291.0,3870.0 1303.3,3900.7 1315.7,3935.0 1330.0,3984.3 1342.2,4011.1 1354.3,4037.7 1363.7,4057.4 1373.0,4080.0 1383.0,4102.3 1393.1,4125.0 1402.1,4140.6 1411.0,4154.4 1420.0,4170.0 1428.8,4181.9 1437.7,4198.2 1446.5,4212.4 1458.2,4224.6 1470.0,4240.0 1480.0,4245.4 1489.9,4252.2 1499.9,4261.0 1509.9,4268.2 1520.0,4274.4 1530.0,4285.0 1540.0,4292.6 1550.0,4301.1 1560.0,4305.0 1570.0,4310.0 1580.0,4317.6 1590.0,4322.0 1600.0,4329.9 1610.0,4329.9 1620.0,4338.0 1630.0,4343.2 1640.0,4354.5 1650.0,4360.0 1659.9,4373.2 1669.8,4382.3 1679.9,4389.5 1690.0,4395.0 1699.4,4398.7 1708.9,4405.6 1718.3,4411.5 1729.2,4420.8 1740.0,4427.0 1749.0,4434.5 1757.9,4440.3 1766.9,4445.4 1778.5,4454.5 1790.0,4465.0 1802.7,4477.6 1815.4,4489.1 1826.5,4505.5"/>
<polyline stroke="#C47AE3" points="467.5,4505.0 476.4,4504.6 485.4,4504.1 494.3,4503.7 503.2,4503.3 512.1,4502.8 521.1,4502.5 530.0,4502.0 538.6,4501.2 547.1,4500.6 555.7,4499.7 564.3,4499.1 572.9,4498.4 581.4,4497.6 590.0,4497.0 600.0,4496.9 610.0,4496.5 620.0,4496.5 630.0,4496.4 640.0,4496.0 648.6,4496.2 657.1,4496.7 665.7,4497.0 674.3,4497.2 682.9,4497.2 691.4,4497.7 700.0,4498.0 710.0,4498.3 720.0,4498.4 730.0,4498.7 740.0,4499.0 750.0,4497.6 760.0,4496.2 770.0,4495.0 780.0,4492.9 790.0,4490.2 800.0,4488.0 808.7,4480.9 817.3,4474.2 826.0,4467.0 834.7,4457.4 843.3,4445.0 852.0,4435.0 860.7,4411.9 869.3,4395.7 878.0,4372.0 887.0,4340.0 896.0,4305.7 905.0,4270.1 914.0,4236.0 922.8,4200.4 931.6,4165.9 940.4,4132.8 949.2,4100.0 957.7,4063.4 966.2,4027.2 975.9,3980.9 985.6,3939.8 995.3,3894.9 1005.0,3847.6 1019.6,3794.2 1029.3,3764.0 1039.0,3731.0 1048.7,3701.4 1058.4,3677.7 1073.0,3634.0 1079.0,3631.5 1093.6,3602.3 1108.0,3590.7 1119.8,3582.0 1132.9,3595.1 1143.0,3576.0 1154.8,3570.3 1167.9,3563.0 1178.0,3587.8 1189.7,3602.3 1198.5,3616.0 1207.2,3625.6 1218.8,3643.1 1233.4,3675.2 1243.0,3695.8 1252.6,3716.5 1264.8,3753.0 1276.9,3784.5 1289.1,3813.5 1301.2,3842.7 1313.3,3873.6 1325.4,3901.0 1340.0,3935.0 1349.4,3969.7 1359.1,3993.7 1368.8,4018.9 1378.5,4042.5 1395.0,4085.0 1403.8,4105.0 1412.5,4125.0 1422.2,4135.1 1432.0,4148.8 1441.7,4163.9 1453.0,4184.9 1464.3,4208.6 1475.6,4231.8 1487.8,4246.1 1500.0,4262.0 1511.3,4273.2 1522.6,4285.0 1533.9,4295.0 1542.6,4303.4 1551.3,4311.9 1560.0,4322.0 1571.2,4332.8 1582.4,4343.5 1592.1,4351.1 1601.8,4354.9 1611.6,4359.0 1621.3,4362.9 1631.0,4374.5 1640.7,4380.7 1650.4,4392.0 1660.1,4394.7 1669.8,4399.6 1679.5,4404.7 1689.2,4409.1 1698.9,4416.3 1709.3,4423.4 1719.6,4431.0 1730.0,4436.0 1739.2,4442.0 1748.5,4451.0 1757.7,4458.7 1766.9,4464.9 1778.5,4471.9 1790.0,4478.0 1802.7,4485.7 1815.4,4494.0 1826.5,4505.5"/>
<polyline stroke="#DD9C00" points="467.5,4504.0 477.1,4504.0 486.7,4503.9 496.3,4503.9 505.9,4503.8 515.5,4503.8 527.6,4502.1 539.8,4500.4 549.5,4499.9 559.2,4499.3 569.0,4499.0 578.7,4498.5 588.4,4498.0 598.1,4498.0 607.8,4497.7 617.5,4497.7 627.2,4497.5 636.9,4497.7 646.6,4497.5 656.3,4497.6 666.0,4497.3 675.7,4497.7 685.4,4497.5 693.9,4498.1 702.4,4498.5 710.9,4499.0 719.4,4499.4 729.1,4499.0 738.8,4498.9 748.5,4497.5 758.3,4496.5 768.0,4493.6 777.7,4490.7 789.8,4487.9 801.9,4485.8 814.0,4473.7 826.2,4462.5 838.4,4444.7 850.5,4428.5 855.3,4404.3 865.0,4394.6 872.3,4380.0 883.5,4330.5 894.8,4286.5 906.0,4240.0 917.2,4193.0 928.3,4148.7 939.5,4100.0 948.0,4056.4 956.5,4012.6 968.6,3973.8 980.8,3920.4 995.3,3857.3 1005.0,3794.2 1014.8,3782.0 1024.5,3745.6 1031.7,3706.8 1039.0,3672.8 1055.7,3638.8 1064.5,3637.3 1073.2,3605.3 1083.4,3635.8 1090.7,3571.8 1098.0,3593.6 1114.0,3567.4 1128.6,3574.7 1141.7,3561.6 1151.9,3574.7 1160.6,3576.1 1172.3,3602.3 1178.0,3614.0 1186.8,3614.0 1194.1,3646.0 1202.8,3657.7 1210.1,3678.0 1224.0,3700.0 1238.1,3731.0 1247.8,3753.7 1257.5,3774.8 1267.2,3779.6 1272.0,3818.4 1284.2,3845.1 1296.3,3871.8 1306.0,3897.1 1315.7,3920.4 1330.0,3974.6 1342.2,3991.3 1354.3,4008.5 1364.0,4029.0 1373.7,4052.2 1385.8,4115.3 1395.5,4118.3 1405.2,4115.3 1415.0,4149.3 1422.0,4147.0 1429.5,4173.6 1440.5,4186.3 1451.4,4193.0 1465.9,4227.0 1474.4,4236.3 1482.9,4242.8 1491.4,4247.7 1499.9,4256.1 1512.1,4267.8 1524.2,4282.8 1531.5,4304.7 1543.0,4295.0 1553.3,4311.9 1563.0,4317.9 1572.7,4326.5 1582.4,4328.8 1592.1,4336.2 1601.8,4342.7 1611.6,4345.3 1621.3,4350.8 1631.0,4359.3 1640.7,4363.1 1650.4,4370.2 1660.1,4385.1 1669.8,4394.5 1679.5,4402.0 1689.2,4403.3 1698.9,4411.5 1708.6,4415.9 1718.4,4424.5 1728.1,4428.4 1737.8,4434.4 1747.5,4440.6 1757.2,4449.2 1766.9,4455.1 1776.6,4461.4 1786.3,4467.3 1796.0,4474.6 1808.2,4486.8 1820.3,4498.8 1826.5,4505.5"/>
</g>
<line x1="500.8" y1="3321.0" x2="633" y2="3321.0" stroke="#757575" stroke-width="10" stroke-linecap="round"/>
<text x="648" y="3342.0" font-size="58" font-family="'Liberation Serif','Times New Roman',serif" font-weight="bold">Si:N = 3:4</text>
<line x1="500.8" y1="3394.8" x2="633" y2="3394.8" stroke="#FF4040" stroke-width="10" stroke-linecap="round"/>
<text x="648" y="3415.8" font-size="58" font-family="'Liberation Serif','Times New Roman',serif" font-weight="bold">Si:N = 4:5</text>
<line x1="500.8" y1="3468.6" x2="633" y2="3468.6" stroke="#0070E0" stroke-width="10" stroke-linecap="round"/>
<text x="648" y="3489.6" font-size="58" font-family="'Liberation Serif','Times New Roman',serif" font-weight="bold">Si:N = 5:6</text>
<line x1="500.8" y1="3542.4" x2="633" y2="3542.4" stroke="#00AF64" stroke-width="10" stroke-linecap="round"/>
<text x="648" y="3563.4" font-size="58" font-family="'Liberation Serif','Times New Roman',serif" font-weight="bold">Si:N = 6:7</text>
<line x1="500.8" y1="3616.2" x2="633" y2="3616.2" stroke="#C47AE3" stroke-width="10" stroke-linecap="round"/>
<text x="648" y="3637.2" font-size="58" font-family="'Liberation Serif','Times New Roman',serif" font-weight="bold">Si:N = 7:8</text>
<line x1="500.8" y1="3690.0" x2="633" y2="3690.0" stroke="#DD9C00" stroke-width="10" stroke-linecap="round"/>
<text x="648" y="3711.0" font-size="58" font-family="'Liberation Serif','Times New Roman',serif" font-weight="bold">Si:N = 1:1</text>
<text x="424.5" y="4528.7" font-size="75" text-anchor="end" font-family="'Liberation Serif','Times New Roman',serif" font-weight="bold">0.000</text>
<text x="424.5" y="4278.7" font-size="75" text-anchor="end" font-family="'Liberation Serif','Times New Roman',serif" font-weight="bold">0.005</text>
<text x="424.5" y="4028.7" font-size="75" text-anchor="end" font-family="'Liberation Serif','Times New Roman',serif" font-weight="bold">0.010</text>
<text x="424.5" y="3778.7" font-size="75" text-anchor="end" font-family="'Liberation Serif','Times New Roman',serif" font-weight="bold">0.015</text>
<text x="424.5" y="3528.7" font-size="75" text-anchor="end" font-family="'Liberation Serif','Times New Roman',serif" font-weight="bold">0.020</text>
<text x="424.5" y="3278.7" font-size="75" text-anchor="end" font-family="'Liberation Serif','Times New Roman',serif" font-weight="bold">0.025</text>
<text x="552.4" y="4605" font-size="76" text-anchor="middle" font-family="'Liberation Serif','Times New Roman',serif" font-weight="bold">30</text>
<text x="807.2" y="4605" font-size="76" text-anchor="middle" font-family="'Liberation Serif','Times New Roman',serif" font-weight="bold">60</text>
<text x="1062.1" y="4605" font-size="76" text-anchor="middle" font-family="'Liberation Serif','Times New Roman',serif" font-weight="bold">90</text>
<text x="1316.9" y="4605" font-size="76" text-anchor="middle" font-family="'Liberation Serif','Times New Roman',serif" font-weight="bold">120</text>
<text x="1571.7" y="4605" font-size="76" text-anchor="middle" font-family="'Liberation Serif','Times New Roman',serif" font-weight="bold">150</text>
<text x="1826.5" y="4605" font-size="76" text-anchor="middle" font-family="'Liberation Serif','Times New Roman',serif" font-weight="bold">180</text>
<text x="1145.5" y="4742.9" font-size="87" text-anchor="middle" font-family="'Liberation Serif','Times New Roman',serif" font-weight="bold">Angle (<tspan font-size="100" dy="8" dx="1">°</tspan><tspan dy="-8" dx="-3">)</tspan></text>
<text x="1483" y="3362.4" font-size="58" font-family="'Liberation Serif','Times New Roman',serif" font-weight="bold">N-Si-N</text>
<text transform="translate(164.5 4208) rotate(-90)" font-size="87" font-family="'Liberation Serif','Times New Roman',serif" font-weight="bold">Dsitribution (<tspan font-size="100" dy="8" dx="1">°</tspan></text>
<text transform="translate(128.7 3645) rotate(-90)" font-size="62" font-family="'Liberation Serif','Times New Roman',serif" font-weight="bold">−1</text>
<text transform="translate(164.5 3577.5) rotate(-90)" font-size="87" font-family="'Liberation Serif','Times New Roman',serif" font-weight="bold">)</text>
<text x="77" y="3226" font-size="83" font-family="'Liberation Serif','Times New Roman',serif" font-weight="bold">(c)</text>
</svg></body></html>
